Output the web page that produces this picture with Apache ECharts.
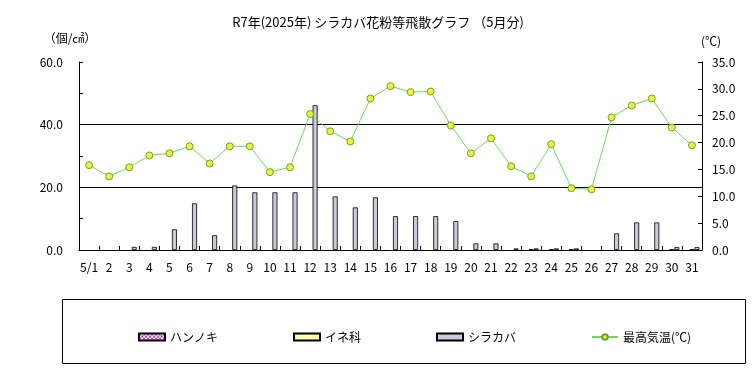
<!DOCTYPE html>
<html>
<head>
<meta charset="utf-8">
<script src="https://cdn.jsdelivr.net/npm/echarts@6/dist/echarts.min.js"></script>
<style>
  html, body { margin: 0; padding: 0; background: #fff; }
  #chart { width: 756px; height: 378px; }
</style>
</head>
<body>
<div id="chart"></div>
<script>
// 日付ラベル
const days = ['5/1'];
for (let d = 2; d <= 31; d++) days.push(String(d));

// 花粉 (個/㎠)
const hannoki = new Array(31).fill(0);
const ine = [0, 0, 0, 0, 0, 0, 0, 0, 0, 0, 0, 0, 0, 0, 0, 0, 0, 0, 0, 0, 0,
  0, 0.2, 0.2, 0.2, 0, 0, 0, 0, 0.2, 0.2];
const shirakaba = [0, 0, 1.0, 1.0, 6.6, 14.9, 4.7, 20.6, 18.4, 18.4, 18.4,
  46.2, 17.1, 13.6, 16.8, 10.8, 10.8, 10.8, 9.2, 2.1, 2.1,
  0.5, 0.5, 0.5, 0.5, 0, 5.3, 8.8, 8.8, 0.9, 0.9];

// 最高気温 (℃)
const maxTemp = [15.8, 13.7, 15.4, 17.6, 18.0, 19.3, 16.1, 19.3, 19.3, 14.5, 15.4,
  25.3, 22.1, 20.2, 28.2, 30.5, 29.4, 29.5, 23.2, 18.0, 20.8,
  15.6, 13.7, 19.7, 11.5, 11.3, 24.7, 26.9, 28.2, 22.8, 19.5];

const FONT = '"Noto Sans CJK JP", sans-serif';

// 0 は棒を描かない
const noZero = arr => arr.map(v => (v === 0 ? '-' : v));

// ハンノキ用の市松模様
const pat = document.createElement('canvas');
pat.width = 4; pat.height = 4;
const pc = pat.getContext('2d');
pc.fillStyle = '#ffffff'; pc.fillRect(0, 0, 4, 4);
pc.fillStyle = '#cc33cc';
pc.fillRect(0, 0, 2, 2); pc.fillRect(2, 2, 2, 2);

const chart = echarts.init(document.getElementById('chart'));

const option = {
  animation: false,
  textStyle: { fontFamily: FONT },
  grid: { left: 79, right: 54, top: 62, bottom: 128 },
  graphic: [
    { type: 'text', left: 'center', top: 16,
      style: { text: 'R7年(2025年) シラカバ花粉等飛散グラフ （5月分)', font: '13px ' + FONT, fill: '#000' } },
    { type: 'text', x: 70, y: 38,
      style: { text: '（個/㎠）', font: '12px ' + FONT, fill: '#000', align: 'center', verticalAlign: 'middle' } },
    { type: 'text', x: 711, y: 41,
      style: { text: '(℃)', font: '12px ' + FONT, fill: '#000', align: 'center', verticalAlign: 'middle' } },
    { type: 'rect', shape: { x: 62.5, y: 299.5, width: 683, height: 64 },
      style: { fill: 'none', stroke: '#000', lineWidth: 1 } }
  ],
  legend: {
    left: 133, top: 326,
    itemWidth: 26, itemHeight: 7, itemGap: 75,
    textStyle: { fontSize: 12, color: '#000', fontFamily: FONT },
    data: [
      { name: 'ハンノキ', icon: 'rect' },
      { name: 'イネ科', icon: 'rect' },
      { name: 'シラカバ', icon: 'rect' },
      { name: '最高気温(℃)' }
    ]
  },
  xAxis: {
    type: 'category',
    data: days,
    boundaryGap: true,
    axisLine: { lineStyle: { color: '#000', width: 1 } },
    axisTick: { show: true, inside: true, length: 4, alignWithLabel: false, lineStyle: { color: '#000' } },
    axisLabel: { color: '#000', fontSize: 12, margin: 11, interval: 0 }
  },
  yAxis: [
    {
      type: 'value', min: 0, max: 60, interval: 20,
      axisLine: { show: true, lineStyle: { color: '#000' } },
      axisTick: { show: true, inside: true, length: 4, lineStyle: { color: '#000' } },
      minorTick: { show: true, splitNumber: 2, length: 4, lineStyle: { color: '#000' } },
      axisLabel: { color: '#000', fontSize: 12, margin: 16, formatter: v => v.toFixed(1) },
      splitLine: { show: true, lineStyle: { color: ['transparent', '#000', '#000', 'transparent'], width: 1 } }
    },
    {
      type: 'value', min: 0, max: 35, interval: 5,
      axisLine: { show: true, lineStyle: { color: '#000' } },
      axisTick: { show: true, inside: true, length: 4, lineStyle: { color: '#000' } },
      axisLabel: { color: '#000', fontSize: 12, margin: 10, formatter: v => v.toFixed(1) },
      splitLine: { show: false }
    }
  ],
  series: [
    {
      name: 'ハンノキ', type: 'bar', data: noZero(hannoki), barWidth: 5, barGap: '0%',
      itemStyle: { color: { image: pat, repeat: 'repeat' }, borderColor: '#000', borderWidth: 0.8 }
    },
    {
      name: 'イネ科', type: 'bar', data: noZero(ine), barWidth: 5, barGap: '0%',
      itemStyle: { color: '#ffffa8', borderColor: '#000', borderWidth: 0.8 }
    },
    {
      name: 'シラカバ', type: 'bar', data: noZero(shirakaba), barWidth: 5, barGap: '0%',
      itemStyle: { color: '#cbc7dc', borderColor: '#000', borderWidth: 0.8 }
    },
    {
      name: '最高気温(℃)', type: 'line', yAxisIndex: 1, data: maxTemp,
      symbol: 'circle', symbolSize: 7,
      lineStyle: { color: '#66dd55', width: 1 },
      itemStyle: { color: '#e8f53a', borderColor: '#7a9a30', borderWidth: 1 }
    }
  ]
};

chart.setOption(option);
</script>
</body>
</html>
